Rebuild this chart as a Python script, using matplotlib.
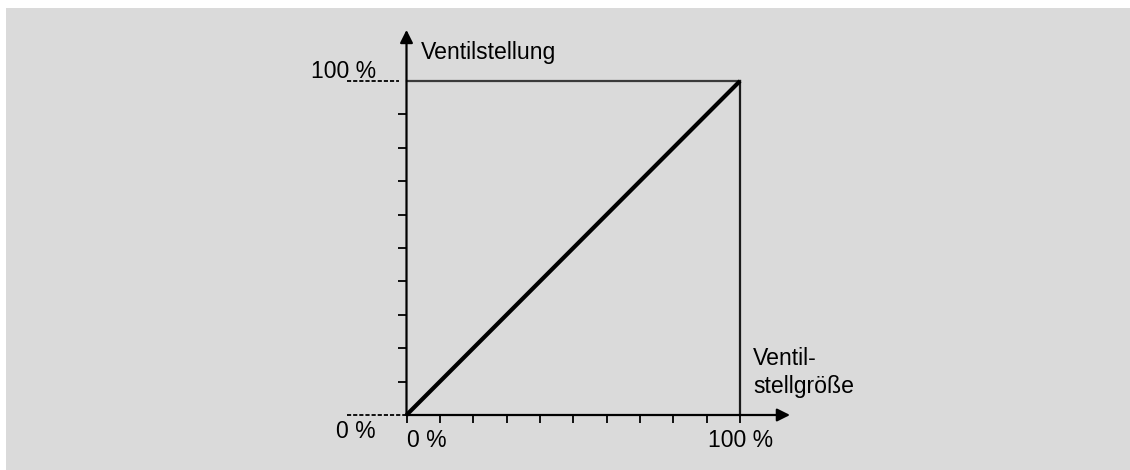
import matplotlib
matplotlib.use("Agg")
import matplotlib.pyplot as plt
from matplotlib.patches import Rectangle

# Valve characteristic: linear mapping of control value to valve position
stellgroesse = [0, 100]      # Ventilstellgröße in %
stellung = [0, 100]          # Ventilstellung in %
tick_values = list(range(0, 101, 10))
x_tick_labels = ["0 %", "100 %"]
y_tick_labels = ["0 %", "100 %"]
y_title = "Ventilstellung"
x_title_lines = ["Ventil-", "stellgröße"]

plt.rcParams["font.family"] = ["Liberation Sans", "DejaVu Sans"]
FS = 16.6

W, H = 1130, 470
fig = plt.figure(figsize=(W / 100, H / 100), dpi=100, facecolor="white")

# grey panel behind the diagram
fig.patches.append(Rectangle((6 / W, 0), 1 - 6 / W, (H - 8) / H,
                             transform=fig.transFigure, facecolor="#dadada",
                             edgecolor="none", zorder=-5))

# axes placed so that 0..100 spans the diagram square
x0, x1 = 406.5, 740.0
y0, y1 = 415.0, 81.0
ax = fig.add_axes([x0 / W, (H - y0) / H, (x1 - x0) / W, (y0 - y1) / H])
ax.set_xlim(0, 100)
ax.set_ylim(0, 100)
ax.patch.set_visible(False)
for s in ax.spines.values():
    s.set_visible(False)

# ticks
ax.set_xticks(tick_values)
ax.set_yticks(tick_values[1:-1])
ax.tick_params(axis="x", direction="out", length=6, width=1.3, color="black",
               labelbottom=False)
ax.tick_params(axis="y", direction="out", length=6.6, width=1.3, color="black",
               labelleft=False)

# axis arrows
arrow = dict(arrowstyle="-|>,head_length=0.77,head_width=0.385",
             mutation_scale=10, lw=1.6, color="black",
             shrinkA=0, shrinkB=0)
ax.annotate("", xy=(0, 115.3), xytext=(0, 0), arrowprops=arrow,
            annotation_clip=False)
ax.annotate("", xy=(115.0, 0), xytext=(0, 0), arrowprops=arrow,
            annotation_clip=False)

# frame at 100 %
xmax, ymax = stellgroesse[-1], stellung[-1]
ax.plot([0, xmax], [ymax, ymax], color="#3a3a3a", lw=1.6, clip_on=False)
ax.plot([xmax, xmax], [0, ymax], color="#1a1a1a", lw=1.6, clip_on=False)

# dashed reference lines for the y labels
for yv, xend in [(stellung[0], 0), (stellung[-1], -2.2)]:
    ax.plot([-17.8, xend], [yv, yv], color="black", lw=1.3,
            dashes=(2.3, 1.1), clip_on=False)

# characteristic line
ax.plot(stellgroesse, stellung, color="black", lw=3.0,
        solid_capstyle="butt", clip_on=False, zorder=5)

# labels
ax.text(-9.2, 100.9, y_tick_labels[1], fontsize=FS, ha="right", va="baseline")
ax.text(-9.4, -6.9, y_tick_labels[0], fontsize=FS, ha="right", va="baseline")
ax.text(0.0, -9.6, x_tick_labels[0], fontsize=FS, ha="left", va="baseline")
ax.text(100.1, -9.6, x_tick_labels[1], fontsize=FS, ha="center", va="baseline")
ax.text(4.35, 106.6, y_title, fontsize=FS, ha="left", va="baseline")
for i, line in enumerate(x_title_lines):
    ax.text(103.9, 15.0 - i * 8.4, line, fontsize=FS, ha="left", va="baseline")

fig.savefig("out.png", dpi=100, facecolor="white")
